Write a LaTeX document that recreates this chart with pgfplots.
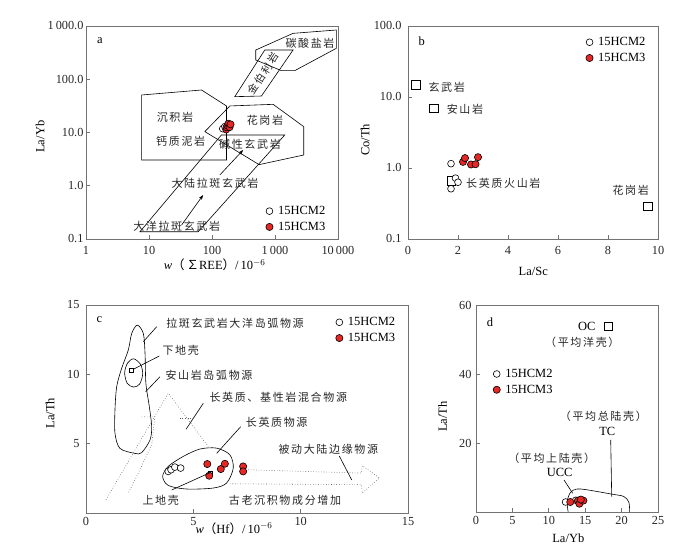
\documentclass[border=0pt]{standalone}
\usepackage{fontspec}
\setmainfont{Liberation Serif}
\newfontfamily\cjk{Noto Sans CJK SC}[LetterSpace=15]
\usepackage{pgfplots}
\pgfplotsset{compat=1.18}
\usetikzlibrary{arrows.meta}
\definecolor{hcmred}{RGB}{228,40,38}

\pgfplotsset{
  panel/.style={scale only axis, anchor=south west,
    axis line style={black!55, line width=0.9pt},
    tick style={black!55, line width=0.7pt},
    tick align=inside, major tick length=4pt,
    xtick pos=left, ytick pos=left,
    /pgf/number format/assume math mode=true,
    tick label style={font=\fontsize{12.3}{14}\selectfont, text=black!85},
    legend cell align=left,
    legend style={draw=none, fill=none, inner sep=0pt, row sep=2pt, anchor=north west,
      nodes={inner sep=2pt}, font=\fontsize{12.5}{14}\selectfont,
      /tikz/every odd column/.append style={column sep=3pt}},
  },
  hcm2/.style={only marks, mark=*, mark size=3.4pt, mark options={fill=white, draw=black, line width=0.6pt}},
  hcm3/.style={only marks, mark=*, mark size=3.6pt, mark options={fill=hcmred, draw=black, line width=0.6pt}},
  refsq/.style={only marks, mark=square*, mark size=#1, mark options={draw=black, line width=0.7pt, fill=white}, forget plot},
  field/.style={black, line width=0.6pt, no markers, forget plot},
  dots/.style={black!65, dotted, line width=0.6pt, no markers, forget plot},
}
\pgfplotsset{legend image code/.code={\draw[mark repeat=2,mark phase=2,#1] plot coordinates {(0pt,0pt) (4pt,0pt) (8pt,0pt)};}}
\tikzset{zh/.style={font=\cjk\fontsize{11}{13}\selectfont, text=black!85}}

\begin{document}
\begin{tikzpicture}[font=\fontsize{12.5}{14}\selectfont]
\path[use as bounding box] (0,0) rectangle (700pt,559pt);

% ---------- a ----------
\begin{axis}[panel, at={(86pt,320pt)}, width=252pt, height=213pt,
  xmode=log, ymode=log, xmin=1, xmax=10000, ymin=0.1, ymax=1000,
  xminorticks=false, yminorticks=false,
  xtick={1,10,100,1000,10000}, xticklabels={1,10,100,1\,000,10\,000},
  ytick={0.1,1,10,100,1000}, yticklabels={0.1,1.0,10.0,100.0,1\,000.0},
  xticklabel style={yshift=-4pt}, yticklabel style={xshift=1pt},
  legend style={at={(0.713,0.164)}}]
\addplot[field] coordinates {(495,354) (1935,728) (9410,841) (9410,381) (2056,145) (1264,145) (495,230)} --cycle;
\addplot[field] coordinates {(688,354) (1935,354) (609,48.4) (230,47.1)} --cycle;
\addplot[field] coordinates {(7.63,50.6) (68.2,62.8) (170,31.5) (170,3.05) (7.63,3.05)} --cycle;
\addplot[field] coordinates {(192,31.5) (933,33.8) (2856,12.9) (2856,3.78) (559,2.49) (77,10.4)} --cycle;
\addplot[field] coordinates {(7.18,0.137) (60.4,0.137) (1428,8.97) (141,8.97)} --cycle;
\addplot[field, -{Stealth[length=5pt,width=3.5pt]}] coordinates {(32.9,0.183) (72.4,0.67)};
\addplot[field, -{Stealth[length=5pt,width=3.5pt]}] coordinates {(133,1.59) (312,4.69)};
\addplot[hcm2] coordinates {(148,11.8) (160,12.9)};
\addlegendentry{15HCM2}
\addplot[hcm3] coordinates {(168,11.4) (170,12.5) (176,13.4) (182,14.6) (190,12.6) (197,14.2)};
\addlegendentry{15HCM3}
\end{axis}

% ---------- b ----------
\begin{axis}[panel, at={(408pt,320pt)}, width=250pt, height=213pt,
  ymode=log, xmin=0, xmax=10, ymin=0.1, ymax=100, yminorticks=false,
  xtick={0,2,4,6,8,10}, ytick={0.1,1,10,100}, yticklabels={0.1,1.0,10.0,100.0},
  xticklabel style={yshift=-4pt}, yticklabel style={xshift=-3pt},
  legend style={at={(0.711,0.957)}}]
\addplot[refsq=4.3pt] coordinates {(0.31,14.8) (1.03,6.9) (1.73,0.66) (9.6,0.29)};
\addplot[hcm2] coordinates {(1.72,1.15) (1.9,0.72) (2.0,0.63) (1.72,0.51)};
\addlegendentry{15HCM2}
\addplot[hcm3] coordinates {(2.2,1.22) (2.28,1.38) (2.52,1.12) (2.7,1.13) (2.8,1.42)};
\addlegendentry{15HCM3}
\end{axis}

% ---------- c ----------
\begin{axis}[panel, at={(86pt,46pt)}, width=322pt, height=208pt,
  xmin=0, xmax=15, ymin=0, ymax=15, xtick={0,5,10,15}, ytick={5,10,15},
  xticklabel style={yshift=-1pt}, yticklabel style={xshift=-3pt},
  legend style={at={(0.775,0.951)}}]
\addplot[field, smooth cycle] coordinates {(2.39,13.55) (2.67,12.95) (2.75,11.51) (2.79,9.35) (2.95,7.67) (3.06,6.22) (2.98,5.26) (2.59,4.35) (2.28,4.30) (1.58,4.66) (1.35,5.75) (1.35,7.43) (1.43,9.11) (1.66,10.43) (1.97,11.75) (2.13,12.95)};
\addplot[field, smooth cycle] coordinates {(2.22,11.12) (2.55,10.7) (2.64,10.0) (2.5,9.3) (2.22,9.08) (1.92,9.35) (1.80,10.1) (1.93,10.8)};
\addplot[field, smooth cycle] coordinates {(5.30,4.61) (6.08,4.68) (6.70,4.20) (6.86,3.24) (6.55,2.16) (5.93,1.80) (4.68,1.73) (3.83,1.99) (3.57,2.64) (3.83,3.36) (4.53,4.08)};
\addplot[dots] coordinates {(0.93,0.96) (3.83,8.64) (5.69,4.80)};
\addplot[dots] coordinates {(2.59,6.93) (3.21,6.93) (3.06,4.92) (2.36,2.64) (1.97,1.44)};
\addplot[dots] coordinates {(4.37,6.86) (4.92,6.86)};
\addplot[dots] coordinates {(6.70,2.11) (12.83,2.04) (12.87,1.44) (13.68,2.52) (12.87,3.41) (12.83,2.88) (7.48,3.12)};
\addplot[refsq=2pt] coordinates {(2.13,10.3) (5.77,2.88)};
\addplot[hcm2] coordinates {(3.83,3.0) (3.96,3.12) (4.14,3.31) (4.41,3.24)};
\addlegendentry{15HCM2}
\addplot[hcm3] coordinates {(5.65,3.53) (5.74,2.69) (6.28,3.17) (6.47,3.55) (7.32,3.36) (7.32,3.0)};
\addlegendentry{15HCM3}
\end{axis}

% ---------- d ----------
\begin{axis}[panel, at={(476pt,47pt)}, width=182pt, height=207pt,
  xmin=0, xmax=25, ymin=0, ymax=60, xtick={0,5,10,15,20,25}, ytick={20,40,60},
  xticklabel style={yshift=-1pt}, yticklabel style={xshift=-1pt},
  legend style={at={(0.093,0.701)}}]
\addplot[field, smooth] coordinates {(12.66,0) (12.52,3.09) (12.98,5.69) (13.80,6.65) (15.17,6.46) (18.6,5.2) (20.3,4.5) (21.0,2.8) (21.1,0)};
\addplot[refsq=4pt] coordinates {(18.2,53.7)};
\addplot[hcm2] coordinates {(12.3,2.9) (13.7,3.4) (14.0,3.1)};
\addlegendentry{15HCM2}
\addplot[hcm3] coordinates {(12.95,2.9) (14.0,3.3) (14.2,2.4) (14.75,3.3) (14.4,3.6)};
\addlegendentry{15HCM3}
\end{axis}

% ---------- text, in pixel coordinates ----------
\begin{scope}[yshift=559pt, x=1pt, y=-1pt]
% a
\node at (100,40.7) {a};
\node[zh] at (310,43.3) {碳酸盐岩};
\node[zh, rotate=57, font=\cjk\fontsize{10.5}{12}\selectfont, inner sep=0pt] at (263.3,73.5) {金伯利岩};
\node[zh] at (175,117.3) {沉积岩};
\node[zh] at (180.7,141.7) {钙质泥岩};
\node[zh] at (265,120.7) {花岗岩};
\node[zh] at (250,144) {碱性玄武岩};
\node[zh] at (215,183.3) {大陆拉斑玄武岩};
\node[zh] at (176.7,226) {大洋拉斑玄武岩};
\node at (214.7,265) {\textit{w}{\cjk（∑}REE{\cjk）}/\,10$^{-6}$};
\node[rotate=90] at (40,136.7) {La/Yb};
% b
\node at (421.7,41.7) {b};
\node[zh] at (446.7,87.3) {玄武岩};
\node[zh] at (465,109.3) {安山岩};
\node[zh] at (503.3,183.3) {长英质火山岩};
\node[zh] at (630.7,190) {花岗岩};
\node at (533.3,271.7) {La/Sc};
\node[rotate=90] at (365,140) {Co/Th};
% c
\node at (99.3,319.3) {c};
\node[zh] at (235,323.3) {拉斑玄武岩大洋岛弧物源};
\node[zh] at (180.7,350.7) {下地壳};
\node[zh] at (209,375) {安山岩岛弧物源};
\node[zh] at (278.3,397.3) {长英质、基性岩混合物源};
\node[zh] at (276.7,422.7) {长英质物源};
\node[zh] at (328.3,449.3) {被动大陆边缘物源};
\node[zh] at (160.7,500) {上地壳};
\node[zh] at (285,500) {古老沉积物成分增加};
\draw[line width=0.6pt] (156.7,326.7) -- (143.3,341.7);
\draw[line width=0.6pt] (159.3,356) -- (133.3,369.3);
\draw[line width=0.6pt] (160,376.7) -- (145.7,391.7);
\draw[line width=0.6pt] (203.3,403.3) -- (186,429.3);
\draw[line width=0.6pt] (240.7,426.7) -- (216.7,453.3);
\draw[line width=0.6pt] (339.3,456) -- (351.7,480);
\draw[line width=0.6pt] (171.7,490) -- (210,472.7);
\node at (234,528.3) {\textit{w}{\cjk（}Hf{\cjk）}/\,10$^{-6}$};
\node[rotate=90] at (50,413.3) {La/Th};
% d
\node at (490,322.7) {d};
\node at (586.7,326.7) {OC};
\node[zh] at (582.3,342.7) {（平均洋壳）};
\node[zh] at (603.3,416.7) {（平均总陆壳）};
\node at (607.3,431.7) {TC};
\node[zh] at (551.7,458.3) {（平均上陆壳）};
\node at (559.7,472.7) {UCC};
\draw[line width=0.6pt] (610.7,440) -- (611.7,496.7);
\draw[line width=0.6pt] (564,480) -- (572.7,493.3);
\node at (568.3,538.3) {La/Yb};
\node[rotate=90] at (442.7,416.7) {La/Th};
\end{scope}
\end{tikzpicture}
\end{document}
